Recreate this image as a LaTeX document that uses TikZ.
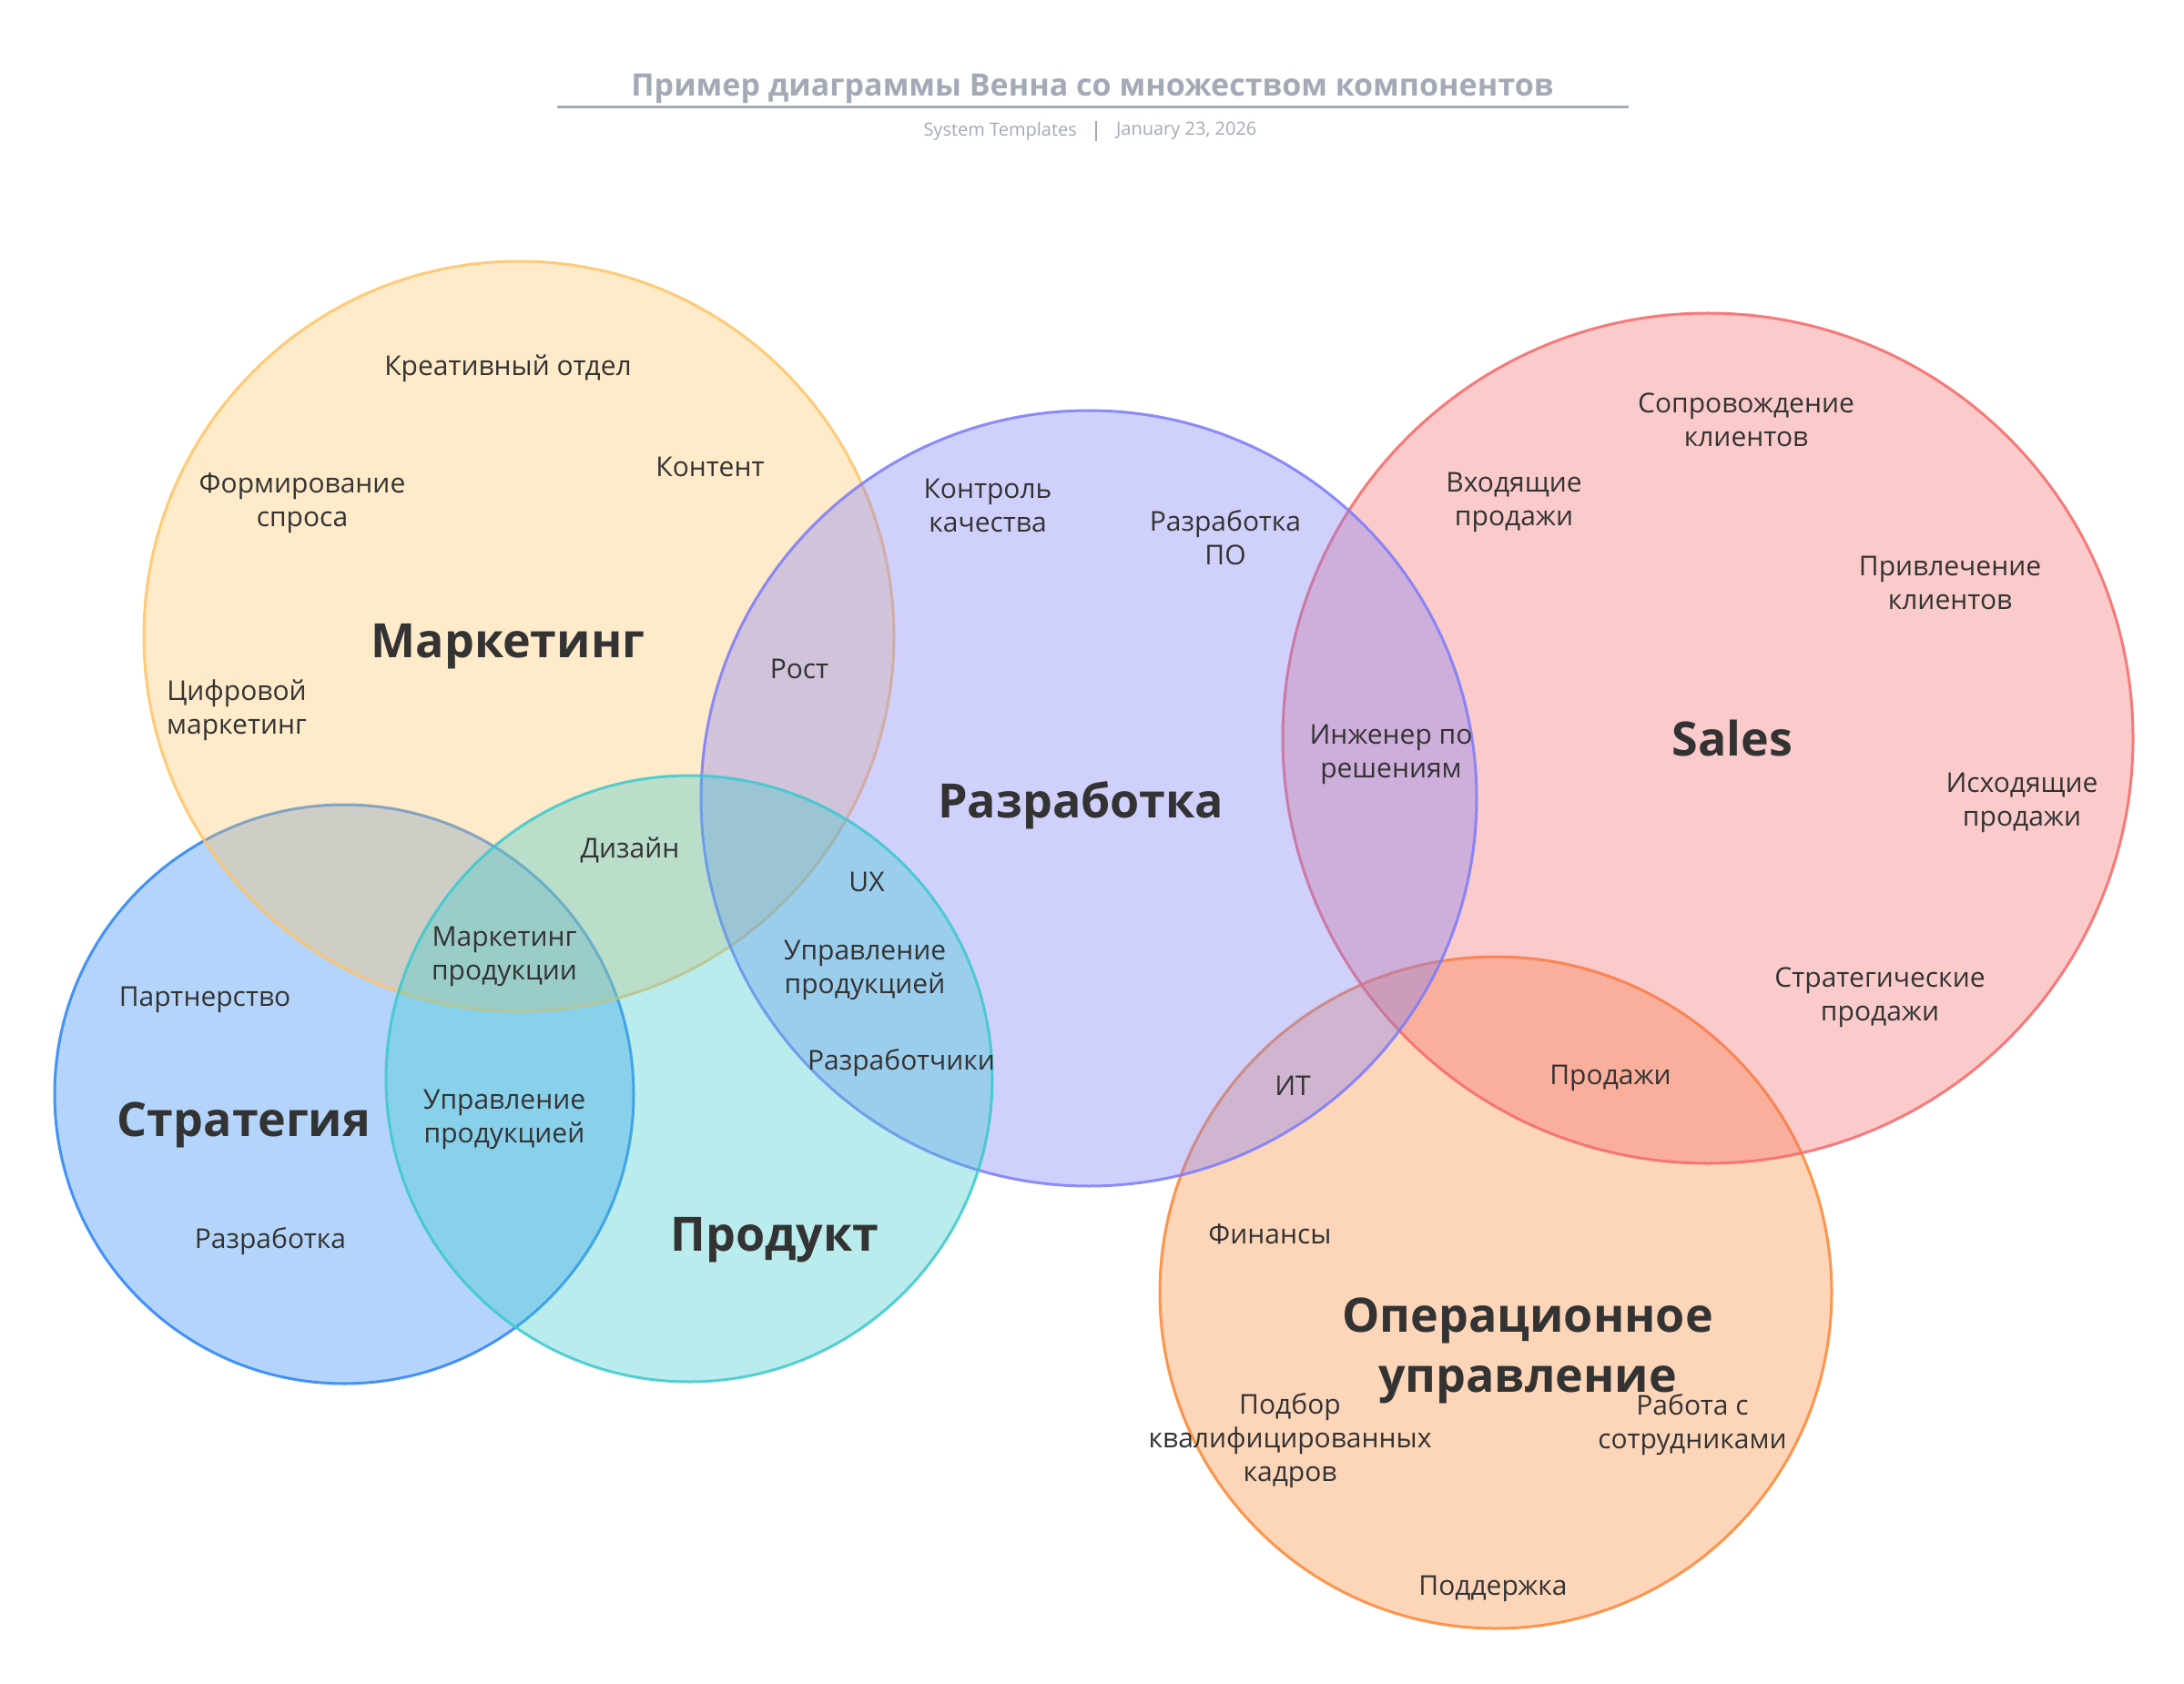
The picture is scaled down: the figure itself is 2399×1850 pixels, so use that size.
\documentclass[tikz,border=0pt]{standalone}
\usepackage{fontspec}
\setmainfont{Open Sans}
\definecolor{txt}{HTML}{333333}
\definecolor{ttl}{HTML}{A3AAB6}
\definecolor{cMark}{HTML}{FFC466}
\definecolor{cDev}{HTML}{7B7BFA}
\definecolor{cSales}{HTML}{F66868}
\definecolor{cStrat}{HTML}{2A84F4}
\definecolor{cProd}{HTML}{3AC9CE}
\definecolor{cOps}{HTML}{FC8734}
\begin{document}
\begin{tikzpicture}[x=0.5pt,y=-0.5pt,
  setc/.style={circle,minimum size=#1,inner sep=0pt,fill opacity=0.35,draw opacity=0.85,line width=1.5pt},
  itm/.style={text=txt,font=\fontsize{15}{18.5}\selectfont,align=center,inner sep=0pt},
  big/.style={text=txt,font=\fontsize{26}{33}\selectfont\bfseries,align=center,inner sep=0pt}]
\useasboundingbox[fill=white] (0,0) rectangle (2399,1850);
% title
\node[text=ttl,font=\fontsize{17}{20}\selectfont\bfseries] (title) at (1200,97) {Пример диаграммы Венна со множеством компонентов};
\coordinate (ulL) at (612,118);
\coordinate (ulR) at (1789,118);
\draw[ttl,line width=1.5pt] (ulL) -- (ulR);
\node[text=ttl,font=\fontsize{10}{12}\selectfont,anchor=east] (sys) at (1190,144) {System Templates};
\node[text=ttl,font=\fontsize{10}{12}\selectfont,anchor=west] (date) at (1219,144) {January 23, 2026};
\coordinate (barT) at (1204,133);
\coordinate (barB) at (1204,155);
\draw[ttl,line width=0.6pt] (barT) -- (barB);
% circles
\node[setc=318pt,draw=cStrat,fill=cStrat] (strat) at (378,1202) {};
\node[setc=412pt,draw=cMark,fill=cMark] (mark) at (570,699) {};
\node[setc=369pt,draw=cOps,fill=cOps] (ops) at (1643,1420) {};
\node[setc=467pt,draw=cSales,fill=cSales] (sales) at (1876,811) {};
\node[setc=426pt,draw=cDev,fill=cDev] (dev) at (1196,877) {};
\node[setc=333pt,draw=cProd,fill=cProd] (prod) at (757,1185) {};
% big labels
\node[big] (lMark) at (558,710) {Маркетинг};
\node[big] (lDev) at (1187,885) {Разработка};
\node[big] (lSales) at (1903,811) {Sales};
\node[big] (lStrat) at (268,1236) {Стратегия};
\node[big] (lProd) at (851,1362) {Продукт};
\node[big] (lOps) at (1678,1484) {Операционное\\управление};
% items
\begin{scope}[yshift=-2pt]
\node[itm] (i1) at (558,401) {Креативный отдел};
\node[itm] (i2) at (780,509) {Контент};
\node[itm] (i3) at (332,549) {Формирование\\спроса};
\node[itm] (i4) at (260,776) {Цифровой\\маркетинг};
\node[itm] (i5) at (878,731) {Рост};
\node[itm] (i6) at (1085,551) {Контроль\\качества};
\node[itm] (i7) at (1346,587) {Разработка\\ПО};
\node[itm] (i8) at (1528,825) {Инженер по\\решениям};
\node[itm] (i9) at (1663,548) {Входящие\\продажи};
\node[itm] (i10) at (1918,457) {Сопровождение\\клиентов};
\node[itm] (i11) at (2142,636) {Привлечение\\клиентов};
\node[itm] (i12) at (2221,878) {Исходящие\\продажи};
\node[itm] (i13) at (2065,1092) {Стратегические\\продажи};
\node[itm] (i14) at (1769,1180) {Продажи};
\node[itm] (i15) at (1420,1189) {ИТ};
\node[itm] (i16) at (1395,1352) {Финансы};
\node[itm] (i17) at (1417,1579) {Подбор\\квалифицированных\\кадров};
\node[itm] (i18) at (1859,1561) {Работа с\\сотрудниками};
\node[itm] (i19) at (1640,1741) {Поддержка};
\node[itm] (i20) at (692,930) {Дизайн};
\node[itm] (i21) at (952,965) {UX};
\node[itm] (i22) at (950,1062) {Управление\\продукцией};
\node[itm] (i23) at (990,1164) {Разработчики};
\node[itm] (i24) at (554,1047) {Маркетинг\\продукции};
\node[itm] (i25) at (225,1094) {Партнерство};
\node[itm] (i26) at (554,1226) {Управление\\продукцией};
\node[itm] (i27) at (297,1360) {Разработка};
\end{scope}
\end{tikzpicture}
\end{document}
